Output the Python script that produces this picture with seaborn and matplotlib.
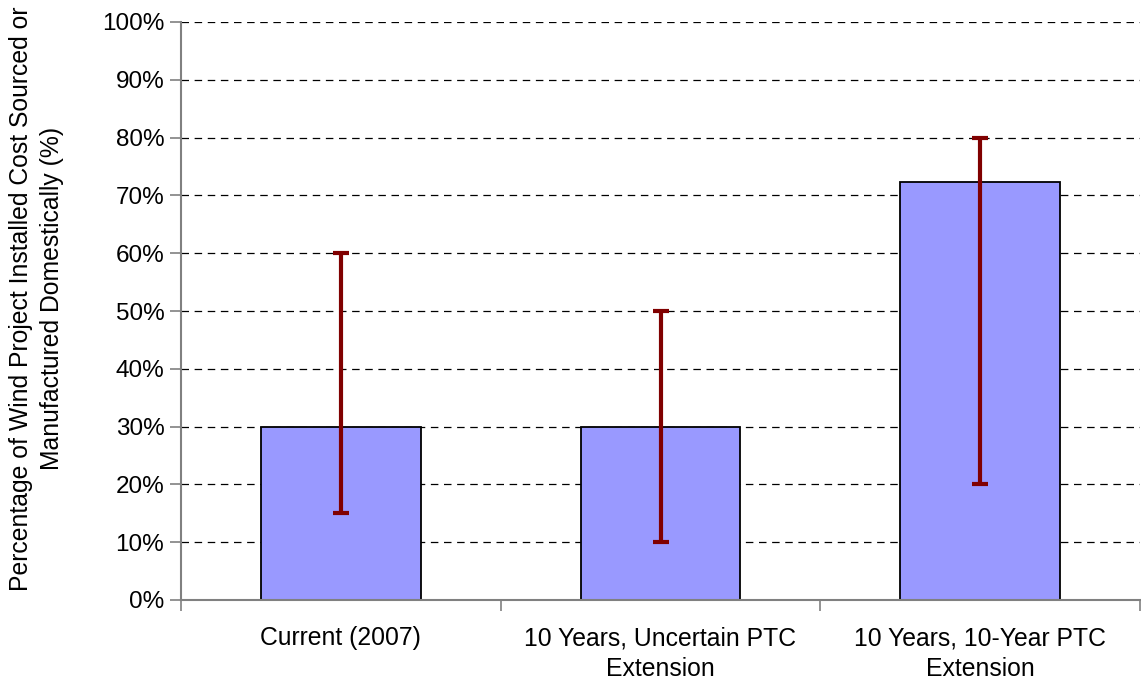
import matplotlib.pyplot as plt
import matplotlib.ticker as mticker
import pandas as pd
import seaborn as sns
import numpy as np

# 数据
categories = ["Current (2007)",
              "10 Years, Uncertain PTC\nExtension",
              "10 Years, 10-Year PTC\nExtension"]
values = [30.0, 30.0, 72.3]
err_low = [15.0, 10.0, 20.0]
err_high = [60.0, 50.0, 80.0]

df = pd.DataFrame({"Scenario": categories, "Share": values})

sns.set_theme(style="white")
plt.rcParams['font.family'] = ['Liberation Sans', 'DejaVu Sans']
plt.rcParams['text.color'] = 'black'
plt.rcParams['xtick.color'] = 'black'
plt.rcParams['ytick.color'] = 'black'
plt.rcParams['axes.labelcolor'] = 'black'

fig = plt.figure(figsize=(11.41, 6.83), dpi=100)
ax = fig.add_axes([181 / 1141, 1 - 600 / 683, 959 / 1141, 578 / 683])

sns.barplot(data=df, x="Scenario", y="Share", color="#9999FF",
            edgecolor="black", linewidth=1.3, width=0.5, saturation=1,
            errorbar=None, ax=ax, zorder=2)

# 误差线
yerr = np.array([[v - lo for v, lo in zip(values, err_low)],
                 [hi - v for v, hi in zip(values, err_high)]])
ax.errorbar(range(len(values)), values, yerr=yerr, fmt="none",
            ecolor="#800000", elinewidth=3, capsize=6, capthick=3, zorder=3)

ax.set_xlim(-0.5, 2.5)
ax.set_ylim(0, 100)
ax.yaxis.set_major_locator(mticker.MultipleLocator(10))
ax.yaxis.set_major_formatter(mticker.FuncFormatter(lambda v, p: f"{v:.0f}%"))

# 分类边界处的刻度
ax.set_xticks([0, 1, 2])
ax.set_xticklabels(categories, fontsize=17.8, linespacing=1.35)
ax.set_xticks([-0.5, 0.5, 1.5, 2.5], minor=True)
ax.tick_params(axis="x", which="major", length=0, pad=19)
ax.tick_params(axis="x", which="minor", length=8, width=1.2, color="#808080", direction="out", bottom=True)
ax.tick_params(axis="y", length=8, width=1.2, color="#808080", labelcolor="black",
               direction="out", left=True, labelsize=17.5, pad=4)

ax.grid(axis="y", linestyle=(0, (6, 4.5)), color="black", linewidth=0.9, zorder=0)
ax.set_axisbelow(True)

for s in ["top", "right"]:
    ax.spines[s].set_visible(False)
for s in ["left", "bottom"]:
    ax.spines[s].set_color("#808080")
    ax.spines[s].set_linewidth(1.5)

ax.set_xlabel("")
ax.set_ylabel("Percentage of Wind Project Installed Cost Sourced or\nManufactured Domestically (%)",
              fontsize=17.8, linespacing=1.35)
ax.yaxis.set_label_coords(-0.122, 0.521)

fig.savefig("out.png", dpi=100)
